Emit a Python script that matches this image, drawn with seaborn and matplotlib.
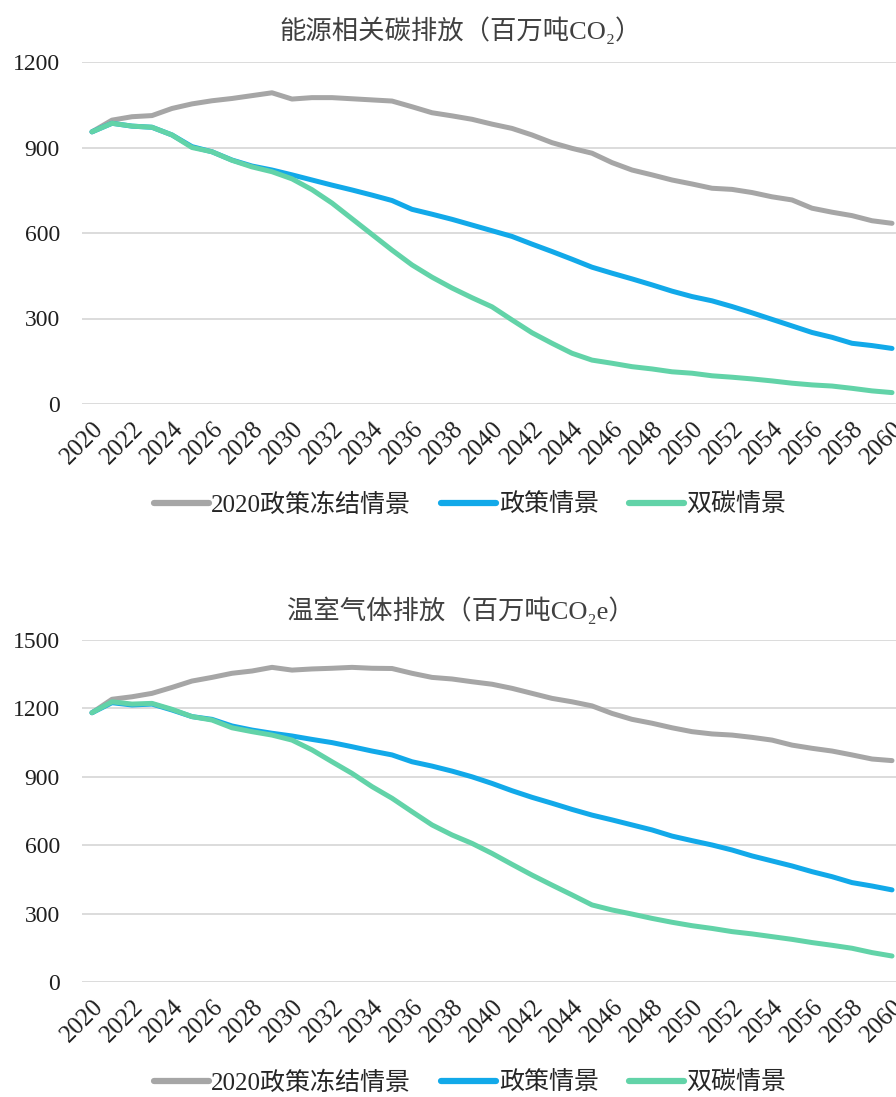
import seaborn as sns
import pandas as pd
import matplotlib.pyplot as plt

# Years on the category axis
years = list(range(2020, 2061))

# Energy related CO2 (million t)
energy_freeze = [955, 996, 1008, 1012, 1037, 1053, 1064, 1072, 1082, 1092,
                 1070, 1075, 1075, 1071, 1067, 1063, 1043, 1022, 1011, 999,
                 982, 967, 944, 917, 897, 880, 847, 821, 804, 786,
                 772, 757, 753, 742, 727, 716, 687, 673, 661, 643,
                 634]
energy_policy = [955, 985, 975, 971, 944, 903, 885, 856, 835, 821,
                 804, 786, 768, 751, 733, 714, 683, 666, 648, 628,
                 608, 588, 561, 535, 508, 480, 459, 439, 418, 396,
                 377, 362, 342, 320, 297, 274, 251, 234, 213, 205,
                 195]
energy_dual = [955, 985, 975, 971, 944, 900, 885, 855, 832, 815,
               790, 752, 705, 650, 595, 540, 488, 445, 407, 373,
               341, 295, 250, 213, 178, 154, 143, 131, 123, 113,
               108, 99, 94, 88, 81, 73, 67, 63, 55, 46,
               40]

# Greenhouse gas (million t CO2e)
ghg_freeze = [1181, 1240, 1251, 1266, 1292, 1320, 1336, 1354, 1364, 1380,
              1368, 1373, 1376, 1380, 1376, 1375, 1354, 1336, 1329, 1317,
              1306, 1288, 1266, 1244, 1229, 1211, 1178, 1152, 1135, 1115,
              1098, 1088, 1083, 1073, 1061, 1039, 1025, 1013, 996, 978,
              971]
ghg_policy = [1181, 1225, 1215, 1219, 1193, 1164, 1152, 1123, 1105, 1091,
              1079, 1064, 1050, 1032, 1013, 996, 966, 947, 925, 900,
              871, 839, 810, 784, 757, 732, 711, 689, 667, 640,
              620, 601, 579, 553, 531, 509, 484, 462, 436, 421,
              404]
ghg_dual = [1181, 1229, 1219, 1222, 1196, 1164, 1149, 1115, 1098, 1083,
            1061, 1018, 966, 915, 857, 806, 747, 689, 645, 608,
            564, 516, 469, 425, 382, 338, 316, 298, 279, 262,
            247, 235, 221, 211, 199, 187, 173, 161, 148, 129,
            114]

scenarios = ['2020政策冻结情景', '政策情景', '双碳情景']
colors = ['#a6a6a6', '#12a9e9', '#62d3a8']
titles = ['能源相关碳排放（百万吨CO₂）', '温室气体排放（百万吨CO₂e）']
y_ticks = [[0, 300, 600, 900, 1200], [0, 300, 600, 900, 1200, 1500]]
x_ticks = list(range(2020, 2061, 2))


def long_df(freeze, policy, dual):
    frames = []
    for name, vals in zip(scenarios, [freeze, policy, dual]):
        frames.append(pd.DataFrame({'year': years, 'value': vals, 'scenario': name}))
    return pd.concat(frames, ignore_index=True)


df_energy = long_df(energy_freeze, energy_policy, energy_dual)
df_ghg = long_df(ghg_freeze, ghg_policy, ghg_dual)

sns.set_style('white')
plt.rcParams['font.family'] = ['Liberation Serif', 'DejaVu Serif', 'Noto Sans CJK SC']

W, H = 896, 1097
fig = plt.figure(figsize=(W / 100, H / 100), dpi=100, facecolor='white')

# axes boxes in pixels: left, top(max value), right, bottom(0)
boxes = [(82, 62, 902, 404), (82, 640, 902, 982)]
title_y = [30, 610]
legend_y = [505, 1083]

for i, (df, box) in enumerate(zip([df_energy, df_ghg], boxes)):
    l, t, r, b = box
    ax = fig.add_axes([l / W, 1 - b / H, (r - l) / W, (b - t) / H])
    sns.lineplot(data=df, x='year', y='value', hue='scenario', hue_order=scenarios,
                 palette=colors, linewidth=3.6, ax=ax, legend=True)
    ax.set_xlim(2019.5, 2060.5)
    ax.set_ylim(y_ticks[i][0], y_ticks[i][-1])
    ax.set_yticks(y_ticks[i])
    ax.set_xticks(x_ticks)
    ax.set_xticklabels([str(x) for x in x_ticks], rotation=45, ha='right', va='top',
                       rotation_mode='anchor')
    ax.tick_params(axis='y', length=0, pad=16, labelsize=17, labelcolor='#1f1f1f')
    ax.tick_params(axis='x', length=0, pad=10, labelsize=18, labelcolor='#1f1f1f')
    ax.set_xlabel('')
    ax.set_ylabel('')
    ax.grid(axis='y', color='#d9d9d9', linewidth=1.3)
    ax.set_axisbelow(True)
    sns.despine(ax=ax, left=True, bottom=True)

    # legend below each panel
    handles, labels = ax.get_legend_handles_labels()
    ax.legend_.remove()
    leg = fig.legend(handles, labels, loc='center', bbox_to_anchor=(470 / W, 1 - legend_y[i] / H),
                     ncol=3, frameon=False, fontsize=18, handlelength=2.2,
                     handletextpad=0.1, columnspacing=1.2)
    for line in leg.get_lines():
        line.set_linewidth(4.5)
    for txt in leg.get_texts():
        txt.set_color('#262626')

    fig.text(461 / W, 1 - title_y[i] / H, titles[i], ha='center', va='center',
             fontsize=19, color='#404040')

fig.savefig('out.png', dpi=100, facecolor='white')
